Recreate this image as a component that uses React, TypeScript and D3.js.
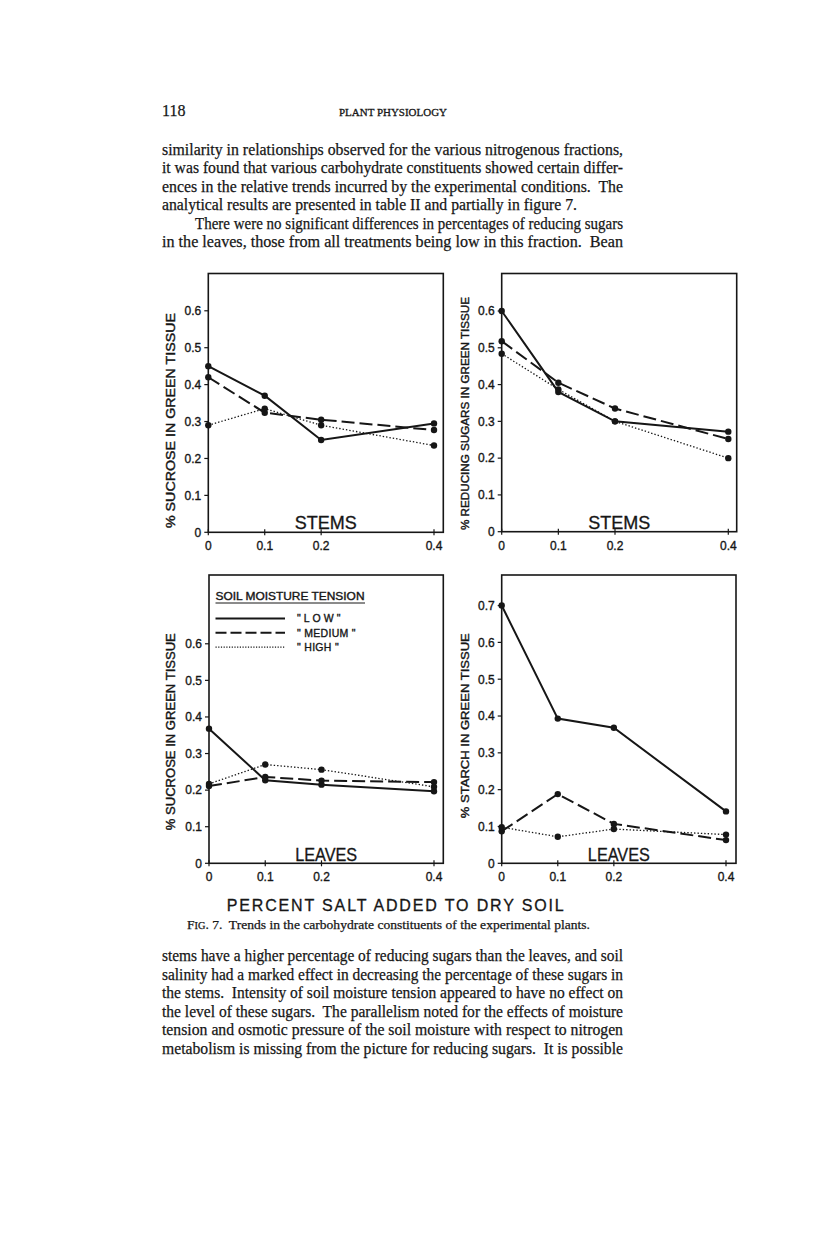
import React from "react";
import * as d3 from "d3";

// percent salt added to dry soil
const salt = [0, 0.1, 0.2, 0.4];
const xTicks = [0, 0.1, 0.2, 0.4];
const xTickLabels = ["0", "0.1", "0.2", "0.4"];

// stems, % sucrose
const stemSucroseLow = [0.45, 0.37, 0.25, 0.295];
const stemSucroseMedium = [0.42, 0.324, 0.305, 0.277];
const stemSucroseHigh = [0.29, 0.335, 0.29, 0.235];

// stems, % reducing sugars
const stemReducingLow = [0.6, 0.38, 0.3, 0.272];
const stemReducingMedium = [0.518, 0.405, 0.335, 0.252];
const stemReducingHigh = [0.484, 0.387, 0.3, 0.2];

// leaves, % sucrose
const leafSucroseLow = [0.368, 0.227, 0.215, 0.197];
const leafSucroseMedium = [0.211, 0.236, 0.226, 0.222];
const leafSucroseHigh = [0.217, 0.27, 0.256, 0.209];

// leaves, % starch
const leafStarchLow = [0.7, 0.393, 0.368, 0.141];
const leafStarchMedium = [0.087, 0.188, 0.107, 0.063];
const leafStarchHigh = [0.098, 0.072, 0.093, 0.078];

const yTicksSix = [0, 0.1, 0.2, 0.3, 0.4, 0.5, 0.6];
const yTicksSeven = [0, 0.1, 0.2, 0.3, 0.4, 0.5, 0.6, 0.7];

const legendLabels = ['"LOW"', '" MEDIUM "', '" HIGH "'];

const topText = [
  "similarity in relationships observed for the various nitrogenous fractions,",
  "it was found that various carbohydrate constituents showed certain differ-",
  "ences in the relative trends incurred by the experimental conditions.  The",
  "analytical results are presented in table II and partially in figure 7.",
  "There were no significant differences in percentages of reducing sugars",
  "in the leaves, those from all treatments being low in this fraction.  Bean",
];
const bottomText = [
  "stems have a higher percentage of reducing sugars than the leaves, and soil",
  "salinity had a marked effect in decreasing the percentage of these sugars in",
  "the stems.  Intensity of soil moisture tension appeared to have no effect on",
  "the level of these sugars.  The parallelism noted for the effects of moisture",
  "tension and osmotic pressure of the soil moisture with respect to nitrogen",
  "metabolism is missing from the picture for reducing sugars.  It is possible",
];

const INK = "#161616";
const SANS = "'Liberation Sans', Arial, sans-serif";
const SERIF = "'Liberation Serif', 'Times New Roman', serif";

const styles = [
  { width: 2, dash: "none" },
  { width: 2, dash: "13 5" },
  { width: 1.3, dash: "1.4 2" },
];

type PanelProps = {
  left: number;
  right: number;
  top: number;
  bottom: number;
  x04: number;
  yTopVal: number;
  yTicks: number[];
  series: number[][];
  yTitle: string;
  titleX: number;
  titleY: number;
  titleLen: number;
  titleSize: number;
  label: string;
  labelY: number;
  legend?: boolean;
};

const Panel = (p: PanelProps) => {
  const x = d3.scaleLinear().domain([0, 0.4]).range([p.left, p.x04]);
  const y = d3.scaleLinear().domain([0, p.yTopVal]).range([p.bottom, p.top]);
  const line = d3
    .line<number>()
    .x((d, i) => x(salt[i]))
    .y((d) => y(d));
  const cx = (p.left + p.right) / 2;
  return (
    <g>
      <rect
        x={p.left}
        y={p.top}
        width={p.right - p.left}
        height={p.bottom - p.top}
        fill="none"
        stroke={INK}
        strokeWidth={1.6}
      />
      {p.yTicks.map((t) => (
        <g key={"y" + t}>
          <line x1={p.left - 4} x2={p.left} y1={y(t)} y2={y(t)} stroke={INK} strokeWidth={1.2} />
          <text
            x={p.left - 7}
            y={y(t)}
            dy="0.36em"
            textAnchor="end"
            fontFamily={SANS}
            fontSize={12}
            fill={INK}
            stroke={INK}
            strokeWidth={0.35}
          >
            {t === 0 ? "0" : t.toFixed(1)}
          </text>
        </g>
      ))}
      {xTicks.map((t, i) => (
        <g key={"x" + t}>
          <line x1={x(t)} x2={x(t)} y1={p.bottom - 3} y2={p.bottom + 3} stroke={INK} strokeWidth={1.2} />
          <text
            x={x(t)}
            y={p.bottom + 18}
            textAnchor="middle"
            fontFamily={SANS}
            fontSize={12}
            fill={INK}
            stroke={INK}
            strokeWidth={0.35}
          >
            {xTickLabels[i]}
          </text>
        </g>
      ))}
      <text
        transform={`translate(${p.titleX},${p.titleY}) rotate(-90)`}
        textAnchor="middle"
        dy="0.36em"
        fontFamily={SANS}
        fontSize={p.titleSize}
        fill={INK}
        stroke={INK}
        strokeWidth={0.4}
        textLength={p.titleLen}
        lengthAdjust="spacingAndGlyphs"
      >
        {p.yTitle}
      </text>
      <text
        x={cx}
        y={p.labelY}
        textAnchor="middle"
        fontFamily={SANS}
        fontSize={18}
        fill={INK}
        stroke={INK}
        strokeWidth={0.3}
        textLength={62}
        lengthAdjust="spacingAndGlyphs"
      >
        {p.label}
      </text>
      {p.series.map((s, k) => (
        <g key={"s" + k}>
          <path
            d={line(s) || ""}
            fill="none"
            stroke={INK}
            strokeWidth={styles[k].width}
            strokeDasharray={styles[k].dash}
          />
          {s.map((v, i) => (
            <circle key={i} cx={x(salt[i])} cy={y(v)} r={3.2} fill={INK} />
          ))}
        </g>
      ))}
      {p.legend && (
        <g fontFamily={SANS} fill={INK} stroke={INK} strokeWidth={0.35}>
          <text x={215.5} y={600} fontSize={10} textLength={149} lengthAdjust="spacingAndGlyphs">
            SOIL MOISTURE TENSION
          </text>
          <line x1={215.5} x2={365} y1={603} y2={603} stroke={INK} strokeWidth={1} />
          {legendLabels.map((l, k) => (
            <g key={l}>
              <line
                x1={215.5}
                x2={285}
                y1={618.5 + k * 14.3}
                y2={618.5 + k * 14.3}
                stroke={INK}
                strokeWidth={styles[k].width}
                strokeDasharray={k === 0 ? "none" : k === 1 ? "11 4" : "1.2 1.5"}
              />
              <text
                x={297}
                y={618.5 + k * 14.3}
                dy="0.36em"
                fontSize={10.5}
                letterSpacing={k === 0 ? 3 : 0.3}
              >
                {l}
              </text>
            </g>
          ))}
        </g>
      )}
    </g>
  );
};

const Lines = ({
  lines,
  y0,
  step,
  left,
  right,
  ragged,
  indents,
}: {
  lines: string[];
  y0: number;
  step: number;
  left: number;
  right: number;
  ragged: { [k: number]: number };
  indents: number[];
}) => (
  <g fontFamily={SERIF} fontSize={16.3} fill={INK} stroke={INK} strokeWidth={0.25}>
    {lines.map((l, i) => {
      const x = left + (indents.includes(i) ? 33 : 0);
      const end = ragged[i] ?? right;
      return (
        <text
          key={i}
          x={x}
          y={y0 + i * step}
          xmlSpace="preserve"
          textLength={end - x}
          lengthAdjust="spacingAndGlyphs"
        >
          {l}
        </text>
      );
    })}
  </g>
);

export default function App() {
  return (
    <svg
      width={816}
      height={1251}
      style={{ position: "absolute", left: 0, top: 0, background: "#fff" }}
    >
      <rect width={816} height={1251} fill="#fff" />
      <text x={162} y={116} fontFamily={SERIF} fontSize={16} fill={INK} stroke={INK} strokeWidth={0.25}>
        118
      </text>
      <text
        x={393}
        y={116}
        textAnchor="middle"
        fontFamily={SERIF}
        fontSize={11}
        fill={INK}
        stroke={INK}
        strokeWidth={0.3}
        textLength={108}
        lengthAdjust="spacingAndGlyphs"
      >
        PLANT PHYSIOLOGY
      </text>

      <Lines lines={topText} y0={155} step={18.4} left={162} right={623} ragged={{ 3: 577 }} indents={[4]} />

      <Panel
        left={208.3}
        right={443.3}
        top={273.5}
        bottom={532.3}
        x04={434}
        yTopVal={0.701}
        yTicks={yTicksSix}
        series={[stemSucroseLow, stemSucroseMedium, stemSucroseHigh]}
        yTitle="% SUCROSE IN GREEN TISSUE"
        titleX={170.5}
        titleY={420.5}
        titleLen={215}
        titleSize={12}
        label="STEMS"
        labelY={529}
      />
      <Panel
        left={501.7}
        right={736.7}
        top={273.5}
        bottom={531.7}
        x04={728.3}
        yTopVal={0.702}
        yTicks={yTicksSix}
        series={[stemReducingLow, stemReducingMedium, stemReducingHigh]}
        yTitle="% REDUCING SUGARS IN GREEN TISSUE"
        titleX={465}
        titleY={413.5}
        titleLen={233}
        titleSize={11}
        label="STEMS"
        labelY={529}
      />
      <Panel
        left={209}
        right={443.3}
        top={575}
        bottom={863.3}
        x04={434}
        yTopVal={0.788}
        yTicks={yTicksSix}
        series={[leafSucroseLow, leafSucroseMedium, leafSucroseHigh]}
        yTitle="% SUCROSE IN GREEN TISSUE"
        titleX={170.5}
        titleY={731.7}
        titleLen={197}
        titleSize={12}
        label="LEAVES"
        labelY={861}
        legend
      />
      <Panel
        left={501.7}
        right={736}
        top={575}
        bottom={863.3}
        x04={726}
        yTopVal={0.783}
        yTicks={yTicksSeven}
        series={[leafStarchLow, leafStarchMedium, leafStarchHigh]}
        yTitle="% STARCH IN GREEN TISSUE"
        titleX={465}
        titleY={725.7}
        titleLen={185}
        titleSize={11}
        label="LEAVES"
        labelY={861}
      />

      <text
        x={226.7}
        y={911}
        fontFamily={SANS}
        fontSize={16}
        fill={INK}
        stroke={INK}
        strokeWidth={0.3}
        textLength={337}
        lengthAdjust="spacing"
      >
        PERCENT SALT ADDED TO DRY SOIL
      </text>
      <text
        x={187}
        y={928.5}
        fontFamily={SERIF}
        fontSize={12.5}
        fill={INK}
        stroke={INK}
        strokeWidth={0.25}
        textLength={403}
        lengthAdjust="spacingAndGlyphs"
        xmlSpace="preserve"
      >
        <tspan>F</tspan>
        <tspan fontSize={9.5}>IG</tspan>
        <tspan>{". 7.  Trends in the carbohydrate constituents of the experimental plants."}</tspan>
      </text>

      <Lines lines={bottomText} y0={961} step={18.5} left={162} right={623} ragged={{}} indents={[]} />
    </svg>
  );
}
